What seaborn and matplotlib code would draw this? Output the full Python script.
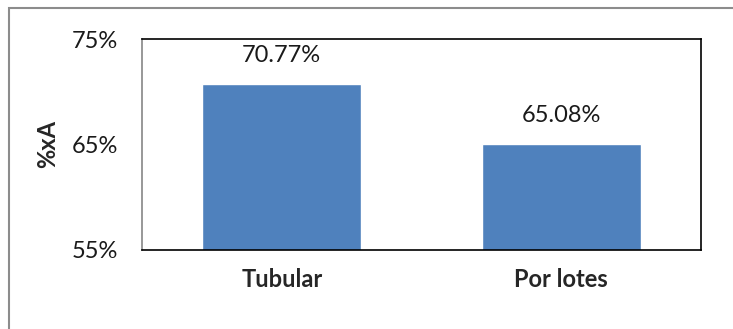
import matplotlib
matplotlib.use("Agg")
import seaborn as sns
import pandas as pd
from matplotlib import pyplot as plt
from matplotlib.patches import Rectangle

# data
categories = ["Tubular", "Por lotes"]
values = [70.77, 65.08]
yticks = [55, 65, 75]

sns.set_style("white")
plt.rcParams['font.family'] = ['Lato', 'DejaVu Sans']
fs = 17

df = pd.DataFrame({"cat": categories, "val": values})

fig = plt.figure(figsize=(7.33, 3.29), dpi=100)
ax = fig.add_axes([142/733, 1 - 250/329, (701-142)/733, (250-39)/329])

sns.barplot(data=df, x="cat", y="val", color="#4F81BD", width=0.57,
            saturation=1, ax=ax)

ax.set_ylim(55, 75)
ax.set_yticks(yticks)
ax.set_yticklabels([f"{t}%" for t in yticks], fontsize=fs, color='#1a1a1a')
ax.tick_params(axis='y', length=0, pad=17)
ax.tick_params(axis='x', length=0, pad=13)
ax.set_xlabel("")
ax.set_ylabel("%xA", fontsize=fs, fontweight='bold', labelpad=9)
for lbl in ax.get_xticklabels():
    lbl.set_fontweight('bold')
    lbl.set_fontsize(fs)

for p, v in zip(ax.patches, values):
    ax.text(p.get_x() + p.get_width()/2, v + 1.7, f"{v:.2f}%",
            ha='center', va='bottom', fontsize=fs, color='#1a1a1a')

for side in ['top', 'right', 'bottom']:
    ax.spines[side].set_color('black')
    ax.spines[side].set_linewidth(1.2)
ax.spines['left'].set_color('#868686')
ax.spines['left'].set_linewidth(1.2)

# outer chart-area border
fig.patches.append(Rectangle((9/733, -0.1), 1.0, 1 - 8/329 + 0.1,
                             transform=fig.transFigure, fill=False,
                             edgecolor='#8c8c8c', linewidth=1.5))

fig.savefig("out.png", dpi=100)
